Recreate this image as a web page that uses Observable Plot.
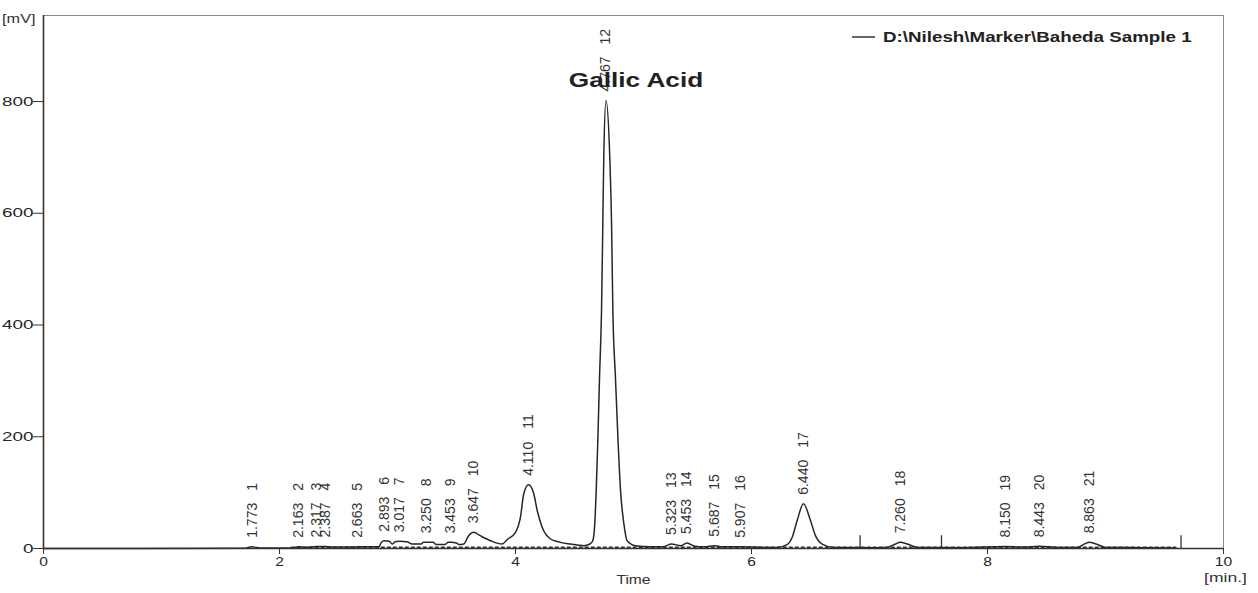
<!DOCTYPE html>
<html>
<head>
<meta charset="utf-8">
<script src="https://cdn.jsdelivr.net/npm/d3@7"></script>
<script src="https://cdn.jsdelivr.net/npm/@observablehq/plot@0.6"></script>
<style>
  html, body { margin: 0; padding: 0; background: white; }
  #chart svg { display: block; overflow: hidden; }
</style>
</head>
<body>
<div id="chart"></div>
<script>
// ---- Chromatogram trace (time in min, signal in mV) ----
const times = [
  0.00, 1.70, 1.75, 1.773, 1.80, 1.85, 2.10, 2.163, 2.22, 2.317, 2.387, 2.45, 2.60, 2.663, 2.80, 2.842,
  2.86, 2.884, 2.93, 2.955, 2.98, 3.017, 3.08, 3.124, 3.20, 3.22, 3.25, 3.30, 3.33, 3.40, 3.43, 3.453,
  3.50, 3.52, 3.562, 3.60, 3.647, 3.70, 3.788, 3.887, 3.93, 4.00, 4.042, 4.070, 4.110, 4.155, 4.184,
  4.226, 4.297, 4.381, 4.466, 4.579, 4.630, 4.655, 4.672, 4.684, 4.697, 4.712, 4.729, 4.740, 4.748,
  4.767, 4.799, 4.814, 4.825, 4.847, 4.870, 4.890, 4.918, 4.946, 5.017, 5.14, 5.25, 5.323, 5.40, 5.453,
  5.52, 5.60, 5.687, 5.75, 5.907, 6.10, 6.218, 6.302, 6.345, 6.387, 6.440, 6.500, 6.542, 6.599, 6.697,
  7.00, 7.15, 7.22, 7.260, 7.32, 7.404, 7.80, 8.150, 8.30, 8.443, 8.60, 8.76, 8.83, 8.863, 8.92, 9.00,
  9.30, 9.60
];
const signal = [
  0, 0.5, 2.5, 3, 2, 0.8, 1, 3, 2, 3.5, 3.5, 2.5, 2.5, 3, 3, 3,
  10, 14, 13, 8, 12, 13, 12, 8, 8, 11, 11, 11, 7, 7, 11, 11,
  10, 7, 8, 22, 29, 23, 14, 8, 16, 29, 56, 98, 114, 98, 68,
  38, 17, 11, 8, 5, 8, 14, 45, 104, 188, 306, 426, 582, 700,
  802, 700, 582, 426, 306, 188, 104, 45, 14, 5, 3, 3, 8, 5, 10,
  4, 3, 5, 3, 3, 2, 2, 7, 20, 50, 80, 50, 23, 8, 2,
  1.5, 2, 8, 11, 8, 2, 1.5, 3.5, 2.5, 4, 2, 2, 9, 11, 8, 2,
  1.5, 1
];

// ---- Peak table ----
const peakTimes   = [1.773, 2.163, 2.317, 2.387, 2.663, 2.893, 3.017, 3.250, 3.453, 3.647, 4.110,
                     4.767, 5.323, 5.453, 5.687, 5.907, 6.440, 7.260, 8.150, 8.443, 8.863];
const peakLabels  = ["1.773", "2.163", "2.317", "2.387", "2.663", "2.893", "3.017", "3.250", "3.453", "3.647", "4.110",
                     "4.767", "5.323", "5.453", "5.687", "5.907", "6.440", "7.260", "8.150", "8.443", "8.863"];
const peakNumbers = ["1", "2", "3", "4", "5", "6", "7", "8", "9", "10", "11",
                     "12", "13", "14", "15", "16", "17", "18", "19", "20", "21"];
const peakHeights = [3, 3, 3.5, 3.5, 3, 14, 13, 11, 11, 29, 114,
                     802, 8, 10, 5, 3, 80, 11, 3.5, 4, 11];
const annotatedPeak = 11;          // index of peak 12
const annotationText = "Gallic Acid";

// ---- Integration markers and baseline ----
const markerTimes = [6.92, 7.61, 9.64];
const markerHeight = 23;
const baselineSpan = [2.1, 9.6];

// ---- Axes ----
const xTicks = [0, 2, 4, 6, 8, 10];
const yTicks = [0, 200, 400, 600, 800];
const xDomain = [0, 10];
const yDomain = [0, 954];
const xLabel = "Time";
const xUnit = "[min.]";
const yUnit = "[mV]";
const legendText = "D:\\Nilesh\\Marker\\Baheda Sample 1";

const trace = times.map((t, i) => ({t, v: signal[i]}));
const peakIdx = peakTimes.map((_, i) => i);

const ink = "#262626";
const font = "'Liberation Sans', Arial, sans-serif";

const svg = Plot.plot({
  width: 1258,
  height: 593,
  marginLeft: 43,
  marginRight: 35,
  marginTop: 15,
  marginBottom: 45,
  x: {domain: xDomain},
  y: {domain: yDomain},
  style: {fontFamily: font, background: "white", color: ink},
  marks: [
    Plot.frame({stroke: "#8a8a8a", strokeWidth: 1}),
    Plot.ruleY([0], {x1: baselineSpan[0], x2: baselineSpan[1], y: 1.5, stroke: "#333", strokeWidth: 2.2, strokeDasharray: "4 2"}),
    Plot.ruleX(markerTimes, {y1: 0, y2: markerHeight, stroke: "#333", strokeWidth: 1.3}),
    Plot.line(trace, {x: "t", y: "v", stroke: ink, strokeWidth: 1.5, curve: "monotone-x"}),
    Plot.ruleX([0], {stroke: "#333", strokeWidth: 1.6}),
    Plot.ruleY([0], {stroke: "#333", strokeWidth: 1.6}),
    Plot.axisX({ticks: xTicks, tickSize: 6, tickPadding: 3, fontSize: 12, label: null, stroke: "#333"}),
    Plot.axisY({ticks: yTicks, tickSize: 10, tickPadding: 0, fontSize: 13, label: null, stroke: "#333"}),
    Plot.text(peakIdx, {
      x: i => peakTimes[i], y: i => peakHeights[i], text: i => peakLabels[i],
      rotate: -90, textAnchor: "start", lineAnchor: "middle", dy: -9, fontSize: 14, fill: "#333",
      ariaLabel: "peak-time"
    }),
    Plot.text(peakIdx, {
      x: i => peakTimes[i], y: i => peakHeights[i], text: i => peakNumbers[i],
      rotate: -90, textAnchor: "start", lineAnchor: "middle", dy: -56, fontSize: 14, fill: "#333",
      ariaLabel: "peak-num"
    }),
    Plot.text([annotatedPeak], {
      x: i => peakTimes[i], y: i => peakHeights[i], text: () => annotationText,
      dx: 30, dy: -20, fontSize: 20, fontWeight: "bold", fill: "#222", lineAnchor: "middle"
    }),
    Plot.text([xLabel], {text: d => d, frameAnchor: "bottom", dy: 32, lineAnchor: "middle", fontSize: 12, fill: "#333"}),
    Plot.text([xUnit], {text: d => d, frameAnchor: "bottom-right", dx: 2, dy: 29, textAnchor: "middle", lineAnchor: "middle", fontSize: 13, fill: "#333"}),
    Plot.text([yUnit], {text: d => d, frameAnchor: "top-left", dx: -8, dy: 3, textAnchor: "end", lineAnchor: "middle", fontSize: 13, fill: "#333"})
  ]
});

document.getElementById("chart").appendChild(svg);

// Legend (top-right, inside frame)
const lg = d3.select(svg).append("g").attr("aria-label", "legend");
lg.append("line").attr("x1", 852).attr("x2", 875).attr("y1", 37).attr("y2", 37)
  .attr("stroke", ink).attr("stroke-width", 1.4);
lg.append("text").attr("x", 883).attr("y", 37).attr("dy", "0.35em")
  .attr("text-anchor", "start")
  .attr("font-size", 14).attr("font-weight", "bold").attr("fill", "#222")
  .attr("font-family", font)
  .text(legendText);

// The reference scan is stretched horizontally: mimic by adjusting text lengths
function setStretch(t, factor) {
  const L = t.getComputedTextLength();
  if (L > 0) {
    t.setAttribute("textLength", (L * factor).toFixed(1));
    t.setAttribute("lengthAdjust", "spacingAndGlyphs");
  }
}
function stretch(selector, factor) {
  svg.querySelectorAll(selector).forEach(t => setStretch(t, factor));
}
function stretchByContent(content, factor) {
  svg.querySelectorAll("text").forEach(t => { if (t.textContent === content) setStretch(t, factor); });
}
stretch('g[aria-label="y-axis tick label"] text', 1.45);
stretch('g[aria-label="x-axis tick label"] text', 1.3);
stretch('g[aria-label="peak-time"] text', 0.86);
stretch('g[aria-label="peak-num"] text', 0.86);
stretch('g[aria-label="legend"] text', 1.34);
stretchByContent(annotationText, 1.31);
stretchByContent(xLabel, 1.3);
stretchByContent(xUnit, 1.35);
stretchByContent(yUnit, 1.25);
</script>
</body>
</html>
